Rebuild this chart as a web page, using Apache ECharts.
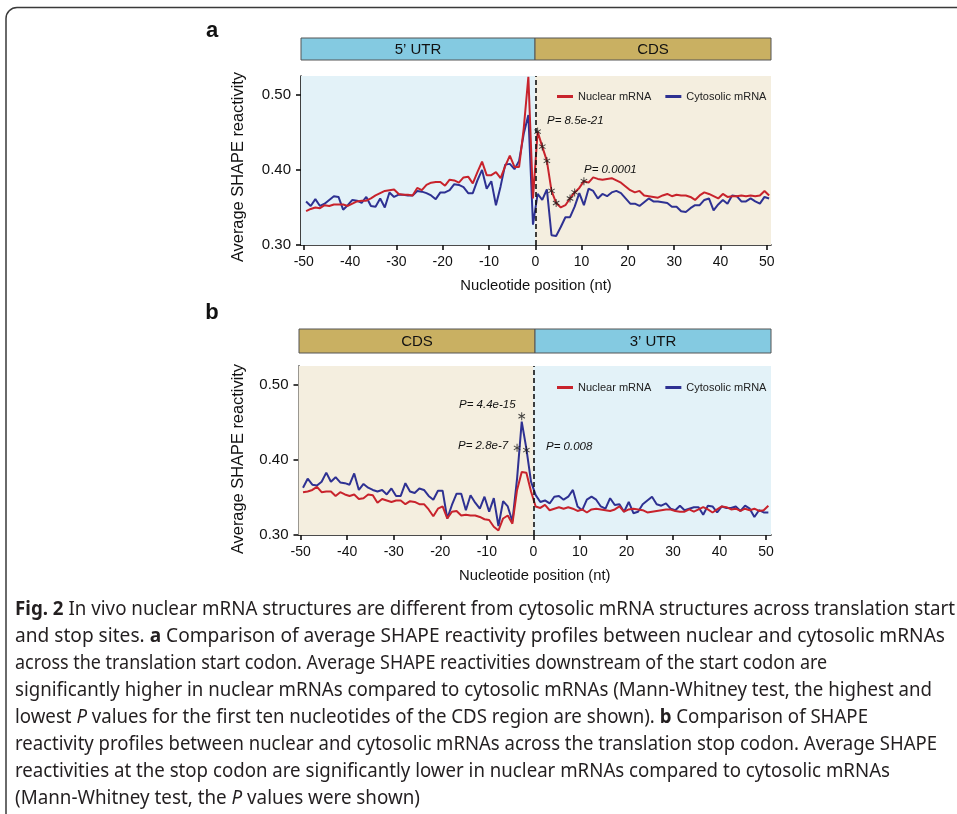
<!DOCTYPE html>
<html><head><meta charset="utf-8">
<script src="https://cdn.jsdelivr.net/npm/echarts@6/dist/echarts.min.js"></script>
<style>html,body{margin:0;padding:0;background:#fff}#c{width:957px;height:814px}</style>
</head><body><div id="c"></div>
<script>
// ---- data ----
const positions = []; for (let p = -50; p <= 50; p++) positions.push(p);
const xTicks = [-50, -40, -30, -20, -10, 0, 10, 20, 30, 40, 50];
const yTicks = [0.30, 0.40, 0.50];
const seriesNames = ['Nuclear mRNA', 'Cytosolic mRNA'];

const aNuclear = [
  0.345, 0.348, 0.350, 0.349, 0.353, 0.352, 0.354, 0.354, 0.354, 0.352,
  0.355, 0.358, 0.359, 0.359, 0.362, 0.366, 0.369, 0.372, 0.373, 0.374,
  0.368, 0.367, 0.367, 0.366, 0.376, 0.373, 0.380, 0.383, 0.384, 0.384,
  0.379, 0.387, 0.386, 0.383, 0.390, 0.391, 0.382, 0.397, 0.411, 0.393,
  0.393, 0.397, 0.389, 0.405, 0.419, 0.404, 0.404, 0.455, 0.524, 0.362,
  0.451, 0.431, 0.412, 0.372, 0.356, 0.350, 0.353, 0.362, 0.370, 0.376,
  0.385, 0.383, 0.390, 0.388, 0.387, 0.388, 0.389, 0.386, 0.383, 0.378,
  0.373, 0.370, 0.372, 0.366, 0.365, 0.364, 0.363, 0.366, 0.368, 0.365,
  0.367, 0.366, 0.366, 0.364, 0.360, 0.366, 0.370, 0.368, 0.365, 0.362,
  0.368, 0.364, 0.365, 0.365, 0.366, 0.365, 0.366, 0.365, 0.366, 0.372, 0.366
];
const aCytosolic = [
  0.358, 0.352, 0.361, 0.352, 0.355, 0.360, 0.365, 0.364, 0.347, 0.353,
  0.360, 0.359, 0.356, 0.364, 0.352, 0.351, 0.362, 0.350, 0.370, 0.364,
  0.367, 0.367, 0.366, 0.366, 0.372, 0.371, 0.369, 0.366, 0.361, 0.370,
  0.370, 0.373, 0.381, 0.380, 0.377, 0.369, 0.369, 0.386, 0.400, 0.375,
  0.385, 0.353, 0.378, 0.407, 0.408, 0.401, 0.412, 0.448, 0.473, 0.327,
  0.368, 0.360, 0.374, 0.313, 0.312, 0.324, 0.337, 0.337, 0.351, 0.369,
  0.353, 0.375, 0.372, 0.362, 0.368, 0.365, 0.370, 0.372, 0.369, 0.362,
  0.355, 0.355, 0.352, 0.357, 0.362, 0.358, 0.358, 0.357, 0.356, 0.351,
  0.351, 0.345, 0.344, 0.349, 0.353, 0.353, 0.360, 0.362, 0.346, 0.354,
  0.360, 0.355, 0.366, 0.365, 0.358, 0.358, 0.362, 0.358, 0.355, 0.364, 0.362
];
const bNuclear = [
  0.357, 0.358, 0.360, 0.364, 0.357, 0.358, 0.358, 0.352, 0.357, 0.354,
  0.352, 0.354, 0.348, 0.349, 0.354, 0.353, 0.343, 0.348, 0.346, 0.344,
  0.346, 0.346, 0.341, 0.345, 0.344, 0.341, 0.341, 0.334, 0.325, 0.335,
  0.338, 0.322, 0.331, 0.332, 0.326, 0.327, 0.326, 0.326, 0.324, 0.321,
  0.320, 0.311, 0.306, 0.322, 0.326, 0.315, 0.360, 0.384, 0.383, 0.358,
  0.338, 0.336, 0.340, 0.333, 0.335, 0.337, 0.335, 0.337, 0.335, 0.332,
  0.334, 0.330, 0.334, 0.335, 0.334, 0.333, 0.332, 0.334, 0.338, 0.331,
  0.334, 0.335, 0.334, 0.333, 0.330, 0.331, 0.332, 0.333, 0.334, 0.334,
  0.332, 0.331, 0.331, 0.334, 0.331, 0.334, 0.337, 0.334, 0.330, 0.334,
  0.338, 0.337, 0.334, 0.335, 0.332, 0.335, 0.333, 0.335, 0.332, 0.333, 0.339
];
const bCytosolic = [
  0.363, 0.375, 0.367, 0.366, 0.371, 0.383, 0.371, 0.377, 0.370, 0.369,
  0.367, 0.382, 0.360, 0.368, 0.363, 0.360, 0.358, 0.360, 0.354, 0.362,
  0.352, 0.352, 0.369, 0.358, 0.356, 0.362, 0.360, 0.352, 0.347, 0.359,
  0.359, 0.322, 0.340, 0.355, 0.355, 0.333, 0.353, 0.343, 0.335, 0.351,
  0.331, 0.349, 0.312, 0.345, 0.338, 0.318, 0.375, 0.451, 0.415, 0.371,
  0.353, 0.344, 0.346, 0.342, 0.351, 0.352, 0.347, 0.351, 0.360, 0.338,
  0.333, 0.347, 0.351, 0.347, 0.338, 0.335, 0.349, 0.340, 0.341, 0.331,
  0.344, 0.329, 0.331, 0.341, 0.346, 0.351, 0.341, 0.339, 0.342, 0.335,
  0.333, 0.339, 0.333, 0.335, 0.337, 0.337, 0.327, 0.339, 0.338, 0.330,
  0.338, 0.336, 0.336, 0.338, 0.332, 0.339, 0.335, 0.324, 0.333, 0.330, 0.330
];
// significance asterisks
const aStarPos = [0, 1, 2, 3, 4, 7, 8, 10];
const bStarPos = [-4, -3, -2];
const bStarVal = [0.416, 0.458, 0.413];
// p-value annotations
const aPLabels = ['P= 8.5e-21', 'P= 0.0001'];
const bPLabels = ['P= 4.4e-15', 'P= 2.8e-7', 'P= 0.008'];
const regionsA = ['5\u2019 UTR', 'CDS'];
const regionsB = ['CDS', '3\u2019 UTR'];
const captionLines = [
  [['Fig. 2', 'b'], [' In vivo nuclear mRNA structures are different from cytosolic mRNA structures across translation start', 'n']],
  [['and stop sites. ', 'n'], ['a', 'b'], [' Comparison of average SHAPE reactivity profiles between nuclear and cytosolic mRNAs', 'n']],
  [['across the translation start codon. Average SHAPE reactivities downstream of the start codon are', 'n']],
  [['significantly higher in nuclear mRNAs compared to cytosolic mRNAs (Mann-Whitney test, the highest and', 'n']],
  [['lowest ', 'n'], ['P', 'i'], [' values for the first ten nucleotides of the CDS region are shown). ', 'n'], ['b', 'b'], [' Comparison of SHAPE', 'n']],
  [['reactivity profiles between nuclear and cytosolic mRNAs across the translation stop codon. Average SHAPE', 'n']],
  [['reactivities at the stop codon are significantly lower in nuclear mRNAs compared to cytosolic mRNAs', 'n']],
  [['(Mann-Whitney test, the ', 'n'], ['P', 'i'], [' values were shown)', 'n']]
];
const captionEnds = [955, 945, 768, 932, 868, 937, 890, 420];

// ---- styles ----
const RED = '#C8232C', BLUE = '#2E3192';
const BG_BLUE = '#E3F2F8', BG_TAN = '#F4EEDF';
const BAR_BLUE = '#84CAE1', BAR_TAN = '#C9B062';
const FONT = '"Liberation Sans", Arial, sans-serif';
const CAP_FONT = '"Noto Sans", "Open Sans", sans-serif';
const CAP_SIZE = 19;
const STAR = 'path://M-1.3,10L1.3,10L1.3,-10L-1.3,-10ZM8.01,6.13L9.31,3.87L-8.01,-6.13L-9.31,-3.87ZM-9.31,3.87L-8.01,6.13L9.31,-3.87L8.01,-6.13Z';

const grids = [
  { left: 301, top: 76, width: 470, height: 169, xmin: -50.6, xmax: 50.9 },
  { left: 298.5, top: 366, width: 472.5, height: 169, xmin: -50.47, xmax: 51.07 }
];
const YMIN = 0.30, YMAX = 0.525;

const chart = echarts.init(document.getElementById('c'), null, { renderer: 'canvas' });

function toXY(vals) { return positions.map((p, i) => [p + 0.5, vals[i]]); }

function xAxisFor(i) {
  const g = grids[i];
  return {
    type: 'value', gridIndex: i, min: g.xmin, max: g.xmax,
    name: 'Nucleotide position (nt)', nameLocation: 'middle', nameGap: 33,
    nameTextStyle: { fontFamily: FONT, fontSize: 14.8, color: '#111' },
    axisLine: { show: true, onZero: false, lineStyle: { color: '#111', width: 1.6 } },
    axisTick: { show: true, length: 5, customValues: xTicks, lineStyle: { color: '#111', width: 1.6 } },
    axisLabel: { customValues: xTicks, margin: 10, fontFamily: FONT, fontSize: 14, color: '#111' },
    splitLine: { show: false }
  };
}
function yAxisFor(i) {
  return {
    type: 'value', gridIndex: i, min: YMIN, max: YMAX,
    axisLine: { show: true, onZero: false, lineStyle: { color: '#111', width: 1.6 } },
    axisTick: { show: true, length: 5, customValues: yTicks, lineStyle: { color: '#111', width: 1.6 } },
    axisLabel: { customValues: yTicks, margin: 10, fontFamily: FONT, fontSize: 15, color: '#111',
      formatter: v => v.toFixed(2) },
    splitLine: { show: false }
  };
}
function lineSeries(name, vals, color, gi, extra) {
  return Object.assign({
    type: 'line', name, xAxisIndex: gi, yAxisIndex: gi, data: toXY(vals),
    showSymbol: false, symbol: 'none', smooth: false, z: 3,
    lineStyle: { color, width: 2 }, itemStyle: { color }
  }, extra || {});
}
function bgMarks(gi, leftColor, rightColor) {
  const g = grids[gi];
  return {
    markArea: { silent: true, data: [
      [{ xAxis: g.xmin, itemStyle: { color: leftColor } }, { xAxis: 0 }],
      [{ xAxis: 0, itemStyle: { color: rightColor } }, { xAxis: g.xmax }]
    ] },
    markLine: { silent: true, symbol: 'none', label: { show: false },
      lineStyle: { color: '#111', width: 1.6, type: [5, 3] }, data: [{ xAxis: 0 }] }
  };
}
function starSeries(gi, data) {
  return {
    type: 'scatter', name: 'stars' + gi, xAxisIndex: gi, yAxisIndex: gi, data,
    symbol: STAR, symbolSize: [7.5, 8], symbolKeepAspect: true,
    itemStyle: { color: '#1a1a1a' }, z: 5, silent: true
  };
}

const starsA = aStarPos.map(p => [p + 0.5, aNuclear[p + 50]]);
const starsB = bStarPos.map((p, i) => [p + 0.5, bStarVal[i]]);

// ---- graphics ----
const graphics = [];
graphics.push({ type: 'rect', shape: { x: 6, y: 7.5, width: 1000, height: 900, r: 11 },
  style: { fill: 'none', stroke: '#3a3a3a', lineWidth: 1.5 }, z: 0 });
function bar(x0, x1, y, h, color, label) {
  graphics.push({ type: 'rect', shape: { x: x0, y, width: x1 - x0, height: h },
    style: { fill: color, stroke: '#555', lineWidth: 1 }, z: 1 });
  graphics.push({ type: 'text', x: (x0 + x1) / 2, y: y + h / 2 + 0.5,
    style: { text: label, fontFamily: FONT, fontSize: 15, fill: '#111', align: 'center', verticalAlign: 'middle' }, z: 2 });
}
bar(301, 535, 38, 22, BAR_BLUE, regionsA[0]);
bar(535, 771, 38, 22, BAR_TAN, regionsA[1]);
bar(299, 535, 329, 24, BAR_TAN, regionsB[0]);
bar(535, 771, 329, 24, BAR_BLUE, regionsB[1]);
function txt(x, y, text, o) {
  graphics.push({ type: 'text', x, y, rotation: o.rotation || 0,
    style: Object.assign({ text, fontFamily: FONT, fill: '#111', verticalAlign: 'middle' }, o.style), z: 6 });
}
txt(212, 31, 'a', { style: { fontSize: 22, fontWeight: 'bold', align: 'center' } });
txt(212, 313, 'b', { style: { fontSize: 22, fontWeight: 'bold', align: 'center' } });
txt(238, 167, 'Average SHAPE reactivity', { rotation: Math.PI / 2, style: { fontSize: 16.4, align: 'center' } });
txt(238, 459, 'Average SHAPE reactivity', { rotation: Math.PI / 2, style: { fontSize: 16.4, align: 'center' } });
const pStyle = { fontSize: 11.5, fontStyle: 'italic', align: 'left' };
txt(547, 121, aPLabels[0], { style: pStyle });
txt(584, 170, aPLabels[1], { style: pStyle });
txt(459, 405, bPLabels[0], { style: pStyle });
txt(458, 446, bPLabels[1], { style: pStyle });
txt(546, 447, bPLabels[2], { style: pStyle });

// caption lines, horizontally condensed toward the reference width
const mctx = document.createElement('canvas').getContext('2d');
function fontStr(kind) {
  return (kind === 'b' ? 'bold ' : kind === 'i' ? 'italic ' : '') + CAP_SIZE + 'px ' + CAP_FONT;
}
const capStartX = 15, capY0 = 610, capStep = 26.9;
const capBuilt = captionLines.map((segs, li) => {
  let off = 0; const children = [];
  segs.forEach(([t, k]) => {
    mctx.font = fontStr(k);
    children.push({ type: 'text', x: off, y: 0, style: { text: t, fontFamily: CAP_FONT, fontSize: CAP_SIZE,
      fontWeight: k === 'b' ? 'bold' : 'normal', fontStyle: k === 'i' ? 'italic' : 'normal',
      fill: '#231F20', verticalAlign: 'middle', align: 'left' } });
    off += mctx.measureText(t).width;
  });
  return { children, s: (captionEnds[li] - capStartX) / off };
});
const sSorted = capBuilt.map(c => c.s).sort((a, b) => a - b);
const sMed = sSorted[Math.floor(sSorted.length / 2)];
capBuilt.forEach((c, li) => {
  const s = Math.min(sMed * 1.04, Math.max(sMed * 0.96, c.s));
  graphics.push({ type: 'group', x: capStartX, y: capY0 + li * capStep, scaleX: s, scaleY: 1, children: c.children, z: 6 });
});

const legendBase = {
  data: seriesNames, icon: 'rect', itemWidth: 16, itemHeight: 3, itemGap: 14,
  textStyle: { fontFamily: FONT, fontSize: 11, color: '#222' }, selectedMode: false
};

chart.setOption({
  animation: false,
  backgroundColor: '#fff',
  grid: grids.map(g => ({ left: g.left, top: g.top, width: g.width, height: g.height, containLabel: false })),
  xAxis: [xAxisFor(0), xAxisFor(1)],
  yAxis: [yAxisFor(0), yAxisFor(1)],
  legend: [
    Object.assign({ left: 552, top: 86 }, legendBase),
    Object.assign({ left: 552, top: 377 }, legendBase)
  ],
  series: [
    lineSeries(seriesNames[1], aCytosolic, BLUE, 0, bgMarks(0, BG_BLUE, BG_TAN)),
    lineSeries(seriesNames[0], aNuclear, RED, 0),
    starSeries(0, starsA),
    lineSeries(seriesNames[1], bCytosolic, BLUE, 1, bgMarks(1, BG_TAN, BG_BLUE)),
    lineSeries(seriesNames[0], bNuclear, RED, 1),
    starSeries(1, starsB)
  ],
  graphic: graphics
});
</script></body></html>
